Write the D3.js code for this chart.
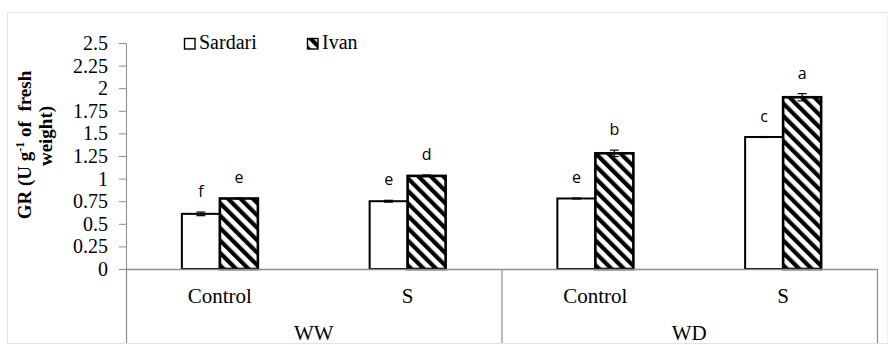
<!DOCTYPE html>
<html>
<head>
<meta charset="utf-8">
<script src="https://cdn.jsdelivr.net/npm/d3@7"></script>
<style>
  html, body { margin: 0; padding: 0; background: #fff; }
  svg { display: block; }
</style>
</head>
<body>
<svg id="chart" width="888" height="345"></svg>
<script>
// Glutathione reductase activity by water regime and treatment, two cultivars
const groups = ["WW", "WD"];
const treatments = ["Control", "S"];
const categories = ["WW|Control", "WW|S", "WD|Control", "WD|S"];
const seriesNames = ["Sardari", "Ivan"];
const sardari = [0.61, 0.75, 0.78, 1.46];
const ivan = [0.78, 1.03, 1.28, 1.90];
const sardariErr = [0.02, 0.01, 0.005, 0.005];
const ivanErr = [0.005, 0.01, 0.035, 0.04];
const sardariLetters = ["f", "e", "e", "c"];
const ivanLetters = ["e", "d", "b", "a"];
const yTicks = [0, 0.25, 0.5, 0.75, 1, 1.25, 1.5, 1.75, 2, 2.25, 2.5];

const svg = d3.select("#chart");
const W = 888, H = 345;
const plot = { left: 126, right: 877, top: 43, bottom: 269 };
const axisColor = "#8c8c8c";
const serif = "'Liberation Serif', 'Times New Roman', serif";

// chart frame
svg.append("rect")
  .attr("x", 7.5).attr("y", 12.5)
  .attr("width", W - 7.5).attr("height", 343.5 - 12.5)
  .attr("fill", "#fff").attr("stroke", "#e3e3e3");

// hatch pattern for Ivan
const defs = svg.append("defs");
const pat = defs.append("pattern")
  .attr("id", "hatch")
  .attr("patternUnits", "userSpaceOnUse")
  .attr("width", 8.8).attr("height", 8.8)
  .attr("patternTransform", "rotate(-45)");
pat.append("rect").attr("width", 8.8).attr("height", 8.8).attr("fill", "#fff");
pat.append("rect").attr("width", 4.2).attr("height", 8.8).attr("fill", "#000");

// scales
const y = d3.scaleLinear().domain([0, 2.5]).range([plot.bottom, plot.top]);
const x0 = d3.scaleBand().domain(categories).range([plot.left, plot.right]).padding(0);
const barW = 38;
const po = (x0.bandwidth() / barW - 2) / 2;
const x1 = d3.scaleBand().domain(seriesNames).range([0, x0.bandwidth()])
  .paddingInner(0).paddingOuter(po);

const rows = categories.map((c, i) => ({
  key: c,
  vals: [
    { s: "Sardari", v: sardari[i], e: sardariErr[i], l: sardariLetters[i] },
    { s: "Ivan", v: ivan[i], e: ivanErr[i], l: ivanLetters[i] }
  ]
}));

// y axis
const yAxis = d3.axisLeft(y).tickValues(yTicks).tickSize(7).tickSizeOuter(0)
  .tickFormat(d => d3.format("")(d));
const ya = svg.append("g").attr("transform", `translate(${plot.left},0)`).call(yAxis);
ya.attr("font-family", serif);
ya.select(".domain").attr("stroke", axisColor);
ya.selectAll(".tick line").attr("stroke", axisColor);
ya.selectAll(".tick text")
  .attr("x", -18)
  .attr("font-family", serif).attr("font-size", 20).attr("fill", "#000");

// bars
const cat = svg.append("g").selectAll("g").data(rows).join("g")
  .attr("transform", d => `translate(${x0(d.key)},0)`);

cat.selectAll("rect").data(d => d.vals).join("rect")
  .attr("x", d => x1(d.s))
  .attr("y", d => y(d.v))
  .attr("width", x1.bandwidth())
  .attr("height", d => y(0) - y(d.v))
  .attr("fill", d => d.s === "Ivan" ? "url(#hatch)" : "#fff")
  .attr("stroke", "#000")
  .attr("stroke-width", d => d.s === "Ivan" ? 2.6 : 2);

// error bars
const eb = cat.selectAll("g.err").data(d => d.vals).join("g").attr("class", "err");
eb.append("line")
  .attr("x1", d => x1(d.s) + x1.bandwidth() / 2).attr("x2", d => x1(d.s) + x1.bandwidth() / 2)
  .attr("y1", d => y(d.v - d.e)).attr("y2", d => y(d.v + d.e))
  .attr("stroke", "#000").attr("stroke-width", 1.2);
["+", "-"].forEach(sign => {
  eb.append("line")
    .attr("x1", d => x1(d.s) + x1.bandwidth() / 2 - 4.5)
    .attr("x2", d => x1(d.s) + x1.bandwidth() / 2 + 4.5)
    .attr("y1", d => y(sign === "+" ? d.v + d.e : d.v - d.e))
    .attr("y2", d => y(sign === "+" ? d.v + d.e : d.v - d.e))
    .attr("stroke", "#000").attr("stroke-width", 1.2);
});

// significance letters
cat.selectAll("text.sig").data(d => d.vals).join("text").attr("class", "sig")
  .attr("x", d => x1(d.s) + x1.bandwidth() / 2)
  .attr("y", d => y(d.v + d.e) - 15)
  .attr("text-anchor", "middle")
  .attr("font-family", "'Open Sans', 'Liberation Sans', sans-serif")
  .attr("font-size", 16).attr("fill", "#000")
  .text(d => d.l);

// category axis (two levels)
const xg = svg.append("g");
xg.append("line")
  .attr("x1", plot.left).attr("x2", plot.right)
  .attr("y1", plot.bottom + 0.5).attr("y2", plot.bottom + 0.5)
  .attr("stroke", axisColor).attr("stroke-width", 1.5);
const groupEdges = [x0(categories[0]), x0(categories[2]), plot.right];
groupEdges.forEach(px => {
  xg.append("line")
    .attr("x1", px + 0.5).attr("x2", px + 0.5)
    .attr("y1", plot.bottom).attr("y2", 343)
    .attr("stroke", axisColor).attr("stroke-width", 1.2);
});
xg.selectAll("text.sub").data(categories).join("text").attr("class", "sub")
  .attr("x", d => x0(d) + x0.bandwidth() / 2)
  .attr("y", 303)
  .attr("text-anchor", "middle")
  .attr("font-family", serif).attr("font-size", 21).attr("fill", "#000")
  .text(d => d.split("|")[1]);
xg.selectAll("text.grp").data(groups).join("text").attr("class", "grp")
  .attr("x", g => {
    const ks = categories.filter(c => c.startsWith(g + "|"));
    return (x0(ks[0]) + x0(ks[ks.length - 1]) + x0.bandwidth()) / 2;
  })
  .attr("y", 340)
  .attr("text-anchor", "middle")
  .attr("font-family", serif).attr("font-size", 21).attr("fill", "#000")
  .text(g => g);

// y axis title, two lines
const yt1 = svg.append("text")
  .attr("transform", "translate(31,145) rotate(-90)")
  .attr("text-anchor", "middle")
  .attr("font-family", serif).attr("font-weight", "bold")
  .attr("font-size", 19).attr("fill", "#000")
  .attr("xml:space", "preserve");
yt1.append("tspan").text("GR (U g");
yt1.append("tspan").attr("dy", -7).attr("font-size", 12).text("-1");
yt1.append("tspan").attr("dy", 7).text(" of  fresh");
svg.append("text")
  .attr("transform", "translate(52,136) rotate(-90)")
  .attr("text-anchor", "middle")
  .attr("font-family", serif).attr("font-weight", "bold")
  .attr("font-size", 19).attr("fill", "#000")
  .text("weight)");

// legend
const legendItems = [
  { name: seriesNames[0], x: 184, fill: "#fff" },
  { name: seriesNames[1], x: 307, fill: "url(#hatch)" }
];
const lg = svg.append("g").selectAll("g").data(legendItems).join("g")
  .attr("transform", d => `translate(${d.x},38)`);
lg.append("rect").attr("x", 0.5).attr("y", 0.5).attr("width", 10.5).attr("height", 10.5)
  .attr("fill", d => d.fill).attr("stroke", "#000").attr("stroke-width", 1.4);
lg.append("text").attr("x", 15).attr("y", 11)
  .attr("font-family", serif).attr("font-size", 20).attr("fill", "#000")
  .text(d => d.name);
</script>
</body>
</html>
